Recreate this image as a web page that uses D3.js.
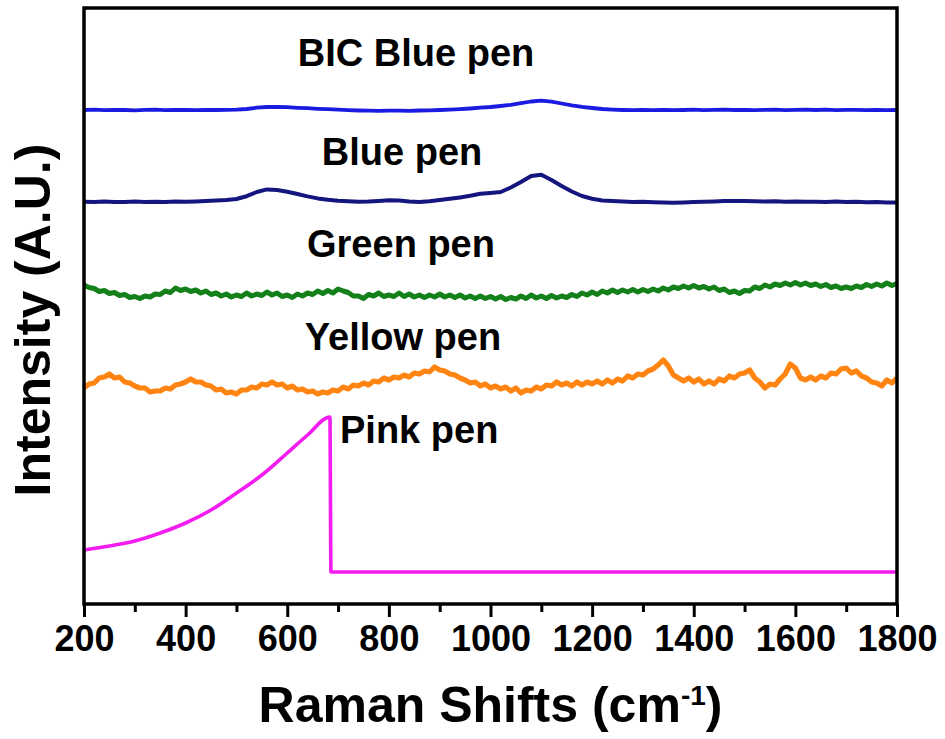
<!DOCTYPE html>
<html>
<head>
<meta charset="utf-8">
<script src="https://cdn.jsdelivr.net/npm/d3@7"></script>
<style>
  html, body { margin: 0; padding: 0; background: #fff; }
  svg { display: block; }
  text { font-family: "Liberation Sans", Arial, sans-serif; font-weight: bold; fill: #000; }
</style>
</head>
<body>
<svg id="chart" width="945" height="739"></svg>
<script>
// Raman shift sampling grids (cm-1)
const shiftCoarse = d3.range(200, 1801, 20);
const shiftFine = d3.range(200, 1801, 10);

// BIC Blue pen (offset intensity, a.u.)
const bicBlue = [494,494.3,493.8,494.2,494,493.7,494.1,494.3,493.9,494,494.2,493.8,494.1,494,494.2,494.3,495,496.3,497,497.2,
  496.8,496.2,495.8,495.2,494.8,494.3,493.9,493.5,493.3,493.1,493.3,493.4,493.2,493.5,493.7,494,494.4,494.9,495.5,496.3,
  497,498,499.2,500.8,502.5,503.3,502.4,500.5,498.7,497.2,496,495,494.4,494,493.8,494.1,493.9,494.2,493.8,494,
  494.3,493.9,494.1,494.4,494,494.2,493.8,494.1,494.3,493.9,494.2,494.4,494,494.3,493.9,494.1,494.2,493.8,494,493.9,494];

// Blue pen
const bluePen = [402.3,402,402.5,402.1,402,402.4,402.1,402.3,401.9,402.4,402.3,402.6,402.9,403.4,404,405,407.8,412,414.6,414,
  412.3,410,407.6,405.6,404.2,403.3,402.7,402.3,402.5,403.1,403.7,403.5,402.4,402.1,402.8,404,405.2,406.6,408.2,410.2,
  411,412,416.5,422,428,429.3,424,418,412.5,408,405.2,403.6,403,402.4,402,402.2,401.7,401.4,401.3,401.6,
  401.9,402.3,402.6,402.9,403.1,403,402.8,402.5,402.8,402.3,402.5,402.2,402.3,402,402.4,401.9,402.2,401.7,402,401.6,401.5];

// Green pen
const greenPen = [319,316.5,315.5,312.5,313.5,310.5,311.5,308.5,309.5,306.5,307.5,305.5,308,307,310,309.5,313,311.5,316,313.5,
  315,312.5,314,311,313,309.5,311,308,310,307,309,307.5,311,308,310,308.5,312,309,311,307.5,
  309,306.5,310,308,311,309.5,313,310.5,313.5,311,315,313,311.5,308,308,305.5,309.5,308,311,307.5,
  309,307.5,311,307.5,310,307,309,306.5,309,307,310,307,309,306.5,309,306,308,305.5,308,305.5,
  307.5,305,307.5,304.5,306.5,305,308,305.5,309,306,308,305.5,308.5,306,308,306.5,309.5,307.5,311,309,
  312,309.5,313,311,314,311.5,314,312,314.5,312,314.5,312.5,315,313,316,314,317,315.5,318,316,
  318.5,316,317.5,315,317,313.5,315,311.5,313,310.5,313.5,313,317,315.5,319,317,320,318.5,321,319,
  321.5,319,321,318.5,320,317.5,319.5,316.5,318,315.5,317,315.5,318,316.5,319.5,317.5,320,318,321,318.5,320.5];

// Yellow pen
const yellowPen = [216,220,221,226,227,230,226,227,222,221,218,216,216,212,213,213,216,215,219,220,
  222,225,222,222,219,218,214,215,211,212,210,214,214,217,216,220,219,222,219,220,
  216,218,214,215,212,213,210,212,211,214,213,217,215,219,218,221,219,223,222,226,
  224,227,226,229,227,231,230,233,232,237,234,233,230,229,226,224,221,222,218,220,
  216,218,215,217,213,216,211,214,213,217,215,219,218,222,219,221,218,222,219,222,
  220,223,220,224,221,225,223,228,226,230,229,233,235,239,244,238,229,226,223,226,
  222,225,220,223,220,225,223,228,226,230,231,234,226,222,216,220,219,225,230,240,
  236,226,224,227,224,228,226,231,230,235,236,231,233,228,226,222,221,218,224,221,226];

// Pink pen (fluorescent background, then flat)
const pinkShift = [200,250,300,350,400,450,500,550,600,640,684,686,1800];
const pinkPen = [54,58,63,71,81,94,111,129,151,169,187,32,32];

// Axis ticks
const majorTicks = [200,400,600,800,1000,1200,1400,1600,1800];
const minorTicks = [300,500,700,900,1100,1300,1500,1700];

const seriesNames = ["BIC Blue pen","Blue pen","Green pen","Yellow pen","Pink pen"];

const svg = d3.select("#chart");
const plotLeft = 84, plotRight = 897, plotTop = 8, plotBottom = 604;

const x = d3.scaleLinear().domain([200, 1800]).range([plotLeft, plotRight]);
const y = d3.scaleLinear().domain([0, 596]).range([plotBottom, plotTop]);

const series = [
  { xs: shiftCoarse, ys: bicBlue, color: "#1a1ae0", width: 3.8, curve: d3.curveLinear },
  { xs: shiftCoarse, ys: bluePen, color: "#15157f", width: 4.0, curve: d3.curveLinear },
  { xs: shiftFine, ys: greenPen, color: "#13801a", width: 5.0, curve: d3.curveLinear },
  { xs: shiftFine, ys: yellowPen, color: "#ff8411", width: 5.2, curve: d3.curveLinear },
  { xs: pinkShift, ys: pinkPen, color: "#f41cf0", width: 3.6, curve: d3.curveMonotoneX }
];

const plot = svg.append("g");
series.forEach(s => {
  const line = d3.line()
    .x((d, i) => x(s.xs[i]))
    .y(d => y(d))
    .curve(s.curve);
  plot.append("path")
    .datum(s.ys)
    .attr("d", line)
    .attr("fill", "none")
    .attr("stroke", s.color)
    .attr("stroke-width", s.width)
    .attr("stroke-linejoin", "round")
    .attr("stroke-linecap", "butt");
});

// Series labels
const labelPos = [
  { x: 416, y: 66, anchor: "middle" },
  { x: 402, y: 165, anchor: "middle" },
  { x: 401, y: 257, anchor: "middle" },
  { x: 403, y: 350, anchor: "middle" },
  { x: 340, y: 443, anchor: "start" }
];
seriesNames.forEach((name, i) => {
  svg.append("text")
    .attr("x", labelPos[i].x)
    .attr("y", labelPos[i].y)
    .attr("text-anchor", labelPos[i].anchor)
    .style("font-size", "38px")
    .text(name);
});

// Bottom axis: major and minor ticks
const axisMajor = d3.axisBottom(x).tickValues(majorTicks).tickSize(13).tickSizeOuter(0).tickPadding(8)
  .tickFormat(d3.format("d"));
const gx = svg.append("g").attr("transform", `translate(0,${plotBottom})`).call(axisMajor);
gx.select(".domain").remove();
gx.selectAll(".tick line").attr("stroke", "#000").attr("stroke-width", 3);
gx.selectAll(".tick text")
  .attr("fill", "#000")
  .style("font-size", "36px")
  .style("font-family", "'Liberation Sans', Arial, sans-serif")
  .style("font-weight", "bold");

const axisMinor = d3.axisBottom(x).tickValues(minorTicks).tickSize(8).tickFormat("");
const gm = svg.append("g").attr("transform", `translate(0,${plotBottom})`).call(axisMinor);
gm.select(".domain").remove();
gm.selectAll(".tick line").attr("stroke", "#000").attr("stroke-width", 3);

// Frame
svg.append("rect")
  .attr("x", plotLeft).attr("y", plotTop)
  .attr("width", plotRight - plotLeft).attr("height", plotBottom - plotTop)
  .attr("fill", "none").attr("stroke", "#000").attr("stroke-width", 3.5);

// Axis titles
const xt = svg.append("text")
  .attr("x", (plotLeft + plotRight) / 2)
  .attr("y", 722)
  .attr("text-anchor", "middle")
  .style("font-size", "50px");
xt.append("tspan").text("Raman Shifts (cm");
xt.append("tspan").attr("dy", -17).style("font-size", "28px").text("-1");
xt.append("tspan").attr("dy", 17).text(")");

svg.append("text")
  .attr("transform", "translate(50,320) rotate(-90)")
  .attr("text-anchor", "middle")
  .style("font-size", "50px")
  .text("Intensity (A.U.)");
</script>
</body>
</html>
